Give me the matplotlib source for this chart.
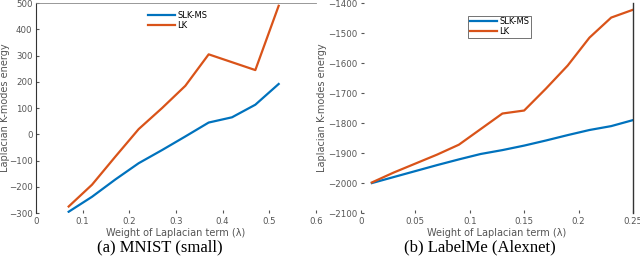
import numpy as np
import matplotlib
matplotlib.use('Agg')
import matplotlib.pyplot as plt

# data, MNIST (small)
lam_a = [0.07, 0.12, 0.17, 0.22, 0.27, 0.32, 0.37, 0.42, 0.47, 0.52]
slk_a = [-295, -238, -172, -110, -60, -8, 45, 65, 113, 192]
lk_a = [-275, -192, -85, 20, 100, 185, 305, 275, 245, 490]

# data, LabelMe (Alexnet)
lam_b = [0.01, 0.03, 0.05, 0.07, 0.09, 0.11, 0.13, 0.15, 0.17, 0.19, 0.21, 0.23, 0.25]
slk_b = [-2000, -1980, -1960, -1940, -1921, -1903, -1890, -1875, -1858, -1840, -1823, -1810, -1790]
lk_b = [-1998, -1965, -1935, -1905, -1872, -1820, -1768, -1758, -1685, -1608, -1515, -1448, -1422]

blue = '#0072BD'
orange = '#D95319'
gray = '#555555'

fig = plt.figure(figsize=(6.4, 2.65), dpi=100)
ax1 = fig.add_axes([0.05625, 0.196, 0.4375, 0.792])
ax2 = fig.add_axes([0.564, 0.196, 0.425, 0.792])

def style(ax):
    ax.tick_params(labelsize=6.2, colors=gray, length=2, direction='in', pad=2.5)
    for s in ax.spines.values():
        s.set_visible(False)
    ax.set_xlabel('Weight of Laplacian term (λ)', fontsize=7, color=gray, labelpad=2)
    ax.set_ylabel('Laplacian K-modes energy', fontsize=7, color=gray)

ax1.plot(lam_a, slk_a, color=blue, lw=1.6, label='SLK-MS')
ax1.plot(lam_a, lk_a, color=orange, lw=1.6, label='LK')
ax1.set_xlim(0, 0.6)
ax1.set_ylim(-300, 500)
ax1.set_xticks(np.arange(0, 0.61, 0.1))
ax1.set_xticklabels(['0', '0.1', '0.2', '0.3', '0.4', '0.5', '0.6'])
ax1.set_yticks(np.arange(-300, 501, 100))
style(ax1)
ax1.yaxis.set_label_coords(-0.094, 0.5)
ax1.spines['left'].set_visible(True)
ax1.spines['top'].set_visible(True)
ax1.spines['left'].set_color('#333333')
ax1.spines['top'].set_color('#888888')
ax1.spines['left'].set_linewidth(0.8)
ax1.spines['top'].set_linewidth(0.6)
ax1.legend(loc='upper left', bbox_to_anchor=(0.38, 0.99), frameon=False,
           fontsize=6, handlelength=3.2, handletextpad=0.3, labelspacing=0.1,
           borderpad=0.2)

ax2.plot(lam_b, slk_b, color=blue, lw=1.6, label='SLK-MS')
ax2.plot(lam_b, lk_b, color=orange, lw=1.6, label='LK')
ax2.set_xlim(0, 0.25)
ax2.set_ylim(-2100, -1400)
ax2.set_xticks([0, 0.05, 0.1, 0.15, 0.2, 0.25])
ax2.set_xticklabels(['0', '0.05', '0.1', '0.15', '0.2', '0.25'])
ax2.set_yticks(np.arange(-2100, -1399, 100))
style(ax2)
ax2.yaxis.set_label_coords(-0.125, 0.5)
ax2.spines['right'].set_visible(True)
ax2.spines['right'].set_color('#333333')
ax2.spines['right'].set_linewidth(1.0)
leg = ax2.legend(loc='upper left', bbox_to_anchor=(0.38, 0.96), frameon=True,
                 fontsize=6, handlelength=3.2, handletextpad=0.3, labelspacing=0.1,
                 borderpad=0.2, fancybox=False)
leg.get_frame().set_edgecolor('#333333')
leg.get_frame().set_linewidth(0.6)

fig.text(0.25, 0.065, '(a) MNIST (small)', ha='center', va='center',
         fontsize=12, family='Liberation Serif')
fig.text(0.75, 0.065, '(b) LabelMe (Alexnet)', ha='center', va='center',
         fontsize=12, family='Liberation Serif')

fig.savefig('out.png', dpi=100)
